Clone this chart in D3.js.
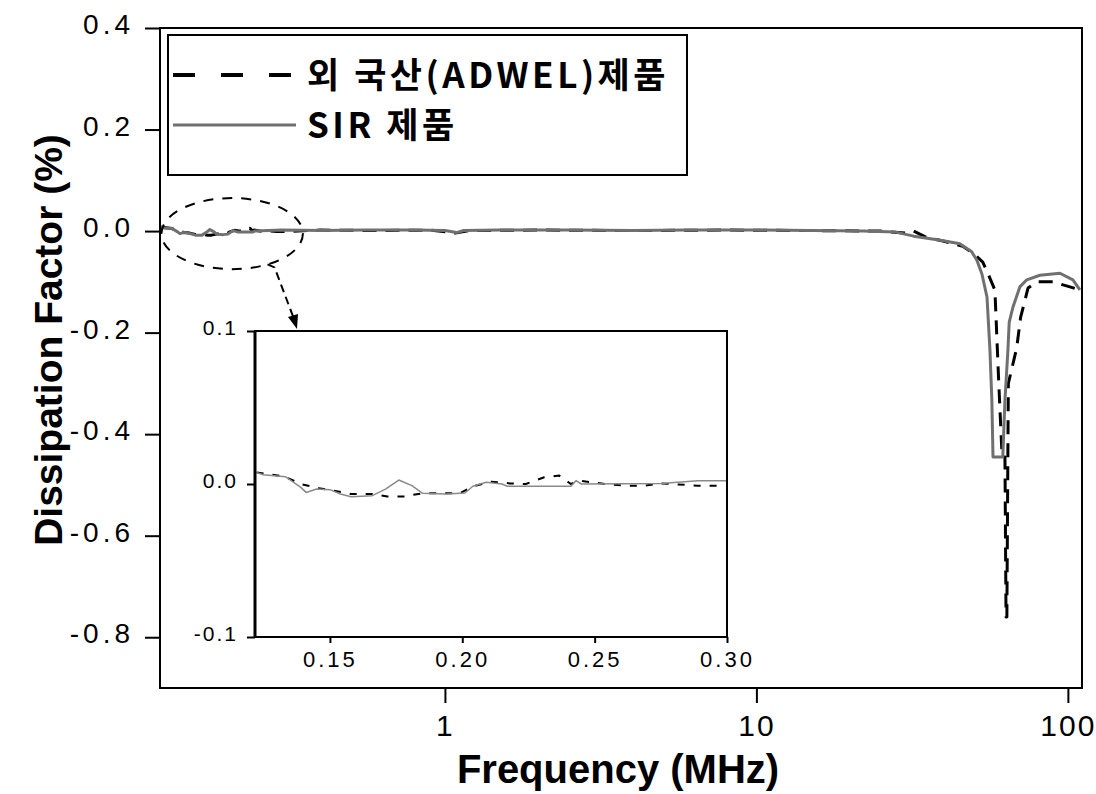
<!DOCTYPE html>
<meta charset="utf-8">
<style>
body { margin: 0; background: #fff; }
svg { font-family: "Liberation Sans", Arial, sans-serif; }
.line { fill: none; stroke-linejoin: round; }
</style>
<body>
<script src="https://d3js.org/d3.v7.min.js"></script>
<script>

// main chart data, frequency in MHz, dissipation factor in %
var sirFreq = [0.1217, 0.125, 0.133, 0.139, 0.141, 0.145, 0.150, 0.158, 0.166, 0.171, 0.176, 0.181, 0.185, 0.194, 0.201, 0.209, 0.217, 0.241, 0.245, 0.30,
  0.4, 0.55, 0.8, 1.0, 1.09, 1.15, 1.5, 2.5, 4, 6, 10, 15, 22, 28, 32, 39, 45, 49, 51, 53, 55, 56.2, 57, 57.5,
  61.8, 62.8, 64.2, 64.8, 66.6, 70.1, 73.8, 81.3, 94.3, 103.8, 109.3];
var sirDF = [0.008, 0.006, 0.005, -0.002, -0.005, -0.003, -0.004, -0.008, -0.008, -0.003, 0.003, -0.001, -0.006, -0.007, -0.006, 0.001, -0.002, -0.002, 0.0, 0.002,
  0.001, 0.002, 0.002, 0.001, -0.003, 0.001, 0.002, 0.002, 0.001, 0.002, 0.002, 0.001, 0.0, -0.002, -0.010, -0.018, -0.025, -0.040, -0.057, -0.085, -0.130, -0.234, -0.333, -0.445,
  -0.445, -0.333, -0.234, -0.180, -0.150, -0.110, -0.096, -0.087, -0.083, -0.096, -0.116];

var adwelFreq = [0.1217, 0.133, 0.139, 0.146, 0.1515, 0.158, 0.166, 0.172, 0.178, 0.185, 0.199, 0.204, 0.211, 0.218, 0.224, 0.231, 0.2366, 0.241, 0.244, 0.254, 0.262, 0.275, 0.289, 0.30,
  0.4, 0.6, 0.9, 1.08, 1.2, 2, 4, 8, 15, 25, 30, 32, 35, 40, 46, 50, 53.3, 55.5, 58.3, 60, 61.5, 62.8,
  63.3, 63.7, 64.2, 64.4, 68.5, 70.5, 74.5, 79.5, 89.5, 101.5, 109.3];
var adwelDF = [0.008, 0.005, 0.0, -0.003, -0.004, -0.0065, -0.0065, -0.008, -0.008, -0.006, -0.006, -0.0015, 0.0015, 0.0004, 0.0, 0.0044, 0.0055, 0.0, 0.002, 0.0, -0.001, 0.0004, -0.001, -0.001,
  0.002, 0.001, 0.002, -0.004, 0.001, 0.002, 0.001, 0.002, 0.001, 0.0, -0.004, 0.0, -0.012, -0.020, -0.030, -0.045, -0.061, -0.085, -0.116, -0.300, -0.445, -0.445,
  -0.760, -0.760, -0.420, -0.300, -0.230, -0.170, -0.112, -0.100, -0.100, -0.110, -0.116];

// inset (zoom of 0.12 - 0.30 MHz)
var insetSirFreq = [0.1223, 0.1248, 0.1332, 0.139, 0.141, 0.145, 0.150, 0.154, 0.158, 0.166, 0.171, 0.176, 0.181, 0.185, 0.194, 0.201, 0.204, 0.209, 0.215, 0.217, 0.241, 0.243, 0.245, 0.275, 0.289, 0.30];
var insetSirDF = [0.0076, 0.006, 0.0048, -0.0022, -0.0055, -0.0033, -0.0037, -0.0065, -0.0083, -0.0076, -0.0033, 0.0026, -0.0011, -0.0061, -0.0065, -0.0059, -0.0015, 0.0011, 0.0, -0.0015, -0.0015, 0.0022, 0.0, 0.0004, 0.0022, 0.0022];
var insetAdwelFreq = [0.1223, 0.133, 0.139, 0.146, 0.1515, 0.158, 0.166, 0.1717, 0.178, 0.185, 0.199, 0.204, 0.211, 0.218, 0.224, 0.231, 0.2366, 0.241, 0.244, 0.254, 0.262, 0.269, 0.275, 0.289, 0.297];
var insetAdwelDF = [0.0076, 0.0048, 0.0, -0.0028, -0.0044, -0.0065, -0.0065, -0.0081, -0.0081, -0.0061, -0.0061, -0.0015, 0.0015, 0.0004, 0.0, 0.0044, 0.0055, 0.0, 0.0022, 0.0, -0.0011, -0.0011, 0.0004, -0.0011, -0.0011];

var yTicks = [0.4, 0.2, 0.0, -0.2, -0.4, -0.6, -0.8];
var xTicks = [1, 10, 100];
var insetYTicks = [0.1, 0.0, -0.1];
var insetXTicks = [0.15, 0.20, 0.25, 0.30];
var legendLabels = ["외 국산(ADWEL)제품", "SIR 제품"];

var svg = d3.select("body").append("svg")
    .attr("width", 1096)
    .attr("height", 794);

svg.append("rect").attr("width", 1096).attr("height", 794).attr("fill", "#fff");

// scales
var x = d3.scaleLog().domain([0.1217, 111]).range([160, 1082]);
var y = d3.scaleLinear().domain([-0.9, 0.4]).range([688, 28]);

function zip(f, v) { return f.map(function(d, i) { return [d, v[i]]; }); }

svg.append("clipPath").attr("id", "clip")
  .append("rect").attr("x", 160).attr("y", 28).attr("width", 922).attr("height", 660);

var line = d3.line()
    .x(function(d) { return x(d[0]); })
    .y(function(d) { return y(d[1]); });

var plot = svg.append("g").attr("clip-path", "url(#clip)");

plot.append("path")
    .datum(zip(adwelFreq, adwelDF))
    .attr("class", "line")
    .attr("stroke", "#000")
    .attr("stroke-width", 3)
    .attr("stroke-dasharray", "14,9")
    .attr("d", line);

plot.append("path")
    .datum(zip(sirFreq, sirDF))
    .attr("class", "line")
    .attr("stroke", "#707070")
    .attr("stroke-width", 3)
    .attr("d", line);

// frame
svg.append("rect")
    .attr("x", 160).attr("y", 28).attr("width", 922).attr("height", 660)
    .attr("fill", "none").attr("stroke", "#000").attr("stroke-width", 2);

// y axis
var yAxis = svg.append("g")
    .attr("transform", "translate(160,0)")
    .call(d3.axisLeft(y).tickValues(yTicks).tickSize(15).tickPadding(11)
      .tickFormat(function(d) { return d.toFixed(1); }));
yAxis.select(".domain").remove();
yAxis.selectAll("line").attr("stroke-width", 2);
yAxis.selectAll("text")
    .attr("font-family", "Liberation Sans, Arial, sans-serif")
    .attr("font-size", 28).attr("letter-spacing", 4).attr("dy", "0.2em").attr("fill", "#000");

// x axis
var xAxis = svg.append("g")
    .attr("transform", "translate(0,688)")
    .call(d3.axisBottom(x).tickValues(xTicks).tickSize(15).tickPadding(12)
      .tickFormat(function(d) { return String(d); }));
xAxis.select(".domain").remove();
xAxis.selectAll("line").attr("stroke-width", 2);
xAxis.selectAll("text")
    .attr("font-family", "Liberation Sans, Arial, sans-serif")
    .attr("font-size", 30).attr("letter-spacing", 2).attr("fill", "#000");

// axis titles
svg.append("text")
    .attr("transform", "translate(48,340) rotate(-90)")
    .attr("text-anchor", "middle")
    .attr("dominant-baseline", "central")
    .attr("font-size", 39).attr("font-weight", "bold")
    .text("Dissipation Factor (%)");

svg.append("text")
    .attr("x", 618).attr("y", 783)
    .attr("text-anchor", "middle")
    .attr("font-size", 40).attr("font-weight", "bold")
    .text("Frequency (MHz)");

// legend
var legend = svg.append("g");
legend.append("rect")
    .attr("x", 168).attr("y", 35).attr("width", 519).attr("height", 140)
    .attr("fill", "#fff").attr("stroke", "#000").attr("stroke-width", 2);
legend.append("line")
    .attr("x1", 173).attr("x2", 296).attr("y1", 75).attr("y2", 75)
    .attr("stroke", "#000").attr("stroke-width", 4).attr("stroke-dasharray", "22,26");
legend.append("line")
    .attr("x1", 173).attr("x2", 296).attr("y1", 125).attr("y2", 125)
    .attr("stroke", "#707070").attr("stroke-width", 3);
legend.selectAll("text.lg")
    .data(legendLabels)
  .enter().append("text")
    .attr("class", "lg")
    .attr("x", 307)
    .attr("y", function(d, i) { return 88 + i * 50; })
    .attr("font-family", "Noto Sans CJK KR, sans-serif")
    .attr("font-weight", "bold")
    .attr("font-size", 35)
    .attr("letter-spacing", 3.5)
    .text(function(d) { return d; });

// ellipse marking the zoomed region
var ex0 = x(0.123), ex1 = x(0.35), ey0 = y(0.065), ey1 = y(-0.075);
var ecx = (ex0 + ex1) / 2, ecy = (ey0 + ey1) / 2, erx = (ex1 - ex0) / 2, ery = (ey1 - ey0) / 2;
svg.append("ellipse")
    .attr("cx", ecx).attr("cy", ecy).attr("rx", erx).attr("ry", ery)
    .attr("fill", "none").attr("stroke", "#000").attr("stroke-width", 2)
    .attr("stroke-dasharray", "10,9");

// inset
var ix = d3.scaleLinear().domain([0.1217, 0.30]).range([255, 727]);
var iy = d3.scaleLinear().domain([-0.1, 0.1]).range([637, 331]);

// arrow from ellipse to inset
var ax0 = ecx + erx * Math.cos(Math.PI / 3), ay0 = ecy + ery * Math.sin(Math.PI / 3);
var tipX = ix.range()[0] + 42, tipY = iy.range()[1] - 2;
svg.append("path")
    .attr("d", "M" + ax0 + "," + ay0 + " L" + (ax0 + 7) + "," + (ay0 + 3) + " L" + (tipX - 3) + "," + (tipY - 10))
    .attr("fill", "none").attr("stroke", "#000").attr("stroke-width", 2)
    .attr("stroke-dasharray", "8,5");
svg.append("path")
    .attr("d", "M" + tipX + "," + tipY + " L" + (tipX - 9) + "," + (tipY - 12) + " L" + (tipX + 1) + "," + (tipY - 15) + "Z")
    .attr("fill", "#000");

var inset = svg.append("g");
inset.append("rect")
    .attr("x", 255).attr("y", 331).attr("width", 472).attr("height", 306)
    .attr("fill", "#fff");

var iline = d3.line()
    .x(function(d) { return ix(d[0]); })
    .y(function(d) { return iy(d[1]); });

inset.append("path")
    .datum(zip(insetAdwelFreq, insetAdwelDF))
    .attr("class", "line")
    .attr("stroke", "#000").attr("stroke-width", 2)
    .attr("stroke-dasharray", "7,9")
    .attr("d", iline);

inset.append("path")
    .datum(zip(insetSirFreq, insetSirDF))
    .attr("class", "line")
    .attr("stroke", "#8a8a8a").attr("stroke-width", 1.5)
    .attr("d", iline);

inset.append("rect")
    .attr("x", 255).attr("y", 331).attr("width", 472).attr("height", 306)
    .attr("fill", "none").attr("stroke", "#000").attr("stroke-width", 2);
inset.append("line")
    .attr("x1", 255).attr("x2", 255).attr("y1", 331).attr("y2", 637)
    .attr("stroke", "#000").attr("stroke-width", 3);

var iyAxis = inset.append("g")
    .attr("transform", "translate(255,0)")
    .call(d3.axisLeft(iy).tickValues(insetYTicks).tickSize(8).tickPadding(9)
      .tickFormat(function(d) { return d.toFixed(1); }));
iyAxis.select(".domain").remove();
iyAxis.selectAll("line").attr("stroke-width", 2);
iyAxis.selectAll("text")
    .attr("font-family", "Liberation Sans, Arial, sans-serif")
    .attr("font-size", 21).attr("letter-spacing", 2).attr("dy", "0.15em").attr("fill", "#000");

var ixAxis = inset.append("g")
    .attr("transform", "translate(0,637)")
    .call(d3.axisBottom(ix).tickValues(insetXTicks).tickSize(6).tickPadding(8)
      .tickFormat(function(d) { return d.toFixed(2); }));
ixAxis.select(".domain").remove();
ixAxis.selectAll("line").attr("stroke-width", 2);
ixAxis.selectAll("text")
    .attr("font-family", "Liberation Sans, Arial, sans-serif")
    .attr("font-size", 22).attr("letter-spacing", 3).attr("fill", "#000");

</script>
</body>
